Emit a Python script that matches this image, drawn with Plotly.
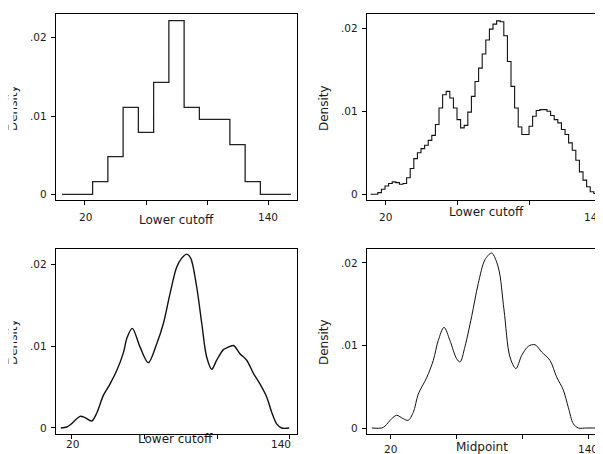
import plotly.graph_objects as go

# The page puts the figure 8px in from the window's top-left corner,
# so the figure is made 8px smaller and all positions are offset by 8px.
WIN_W, WIN_H = 603, 454
OFF = 8
W, H = WIN_W - OFF, WIN_H - OFF

# ---------------- data ----------------
# Panel 1: coarse histogram (lower cutoff), bin edges and densities
p1_edges = [5, 25, 35, 45, 55, 65, 75, 85, 95, 105, 115, 125, 135, 155]
p1_dens = [0, 0.00162, 0.00481, 0.0111, 0.00791, 0.0143, 0.02217, 0.0111,
           0.00957, 0.00957, 0.00634, 0.00162, 0]

# Panel 2: fine histogram (lower cutoff), bin edges and densities
p2_edges = [12, 14, 16, 18, 20, 22, 24, 26, 28, 30, 32, 34, 36, 38, 40, 42, 44,
            46, 48, 50, 52, 54, 56, 58, 60, 62, 64, 66, 68, 70, 72, 74, 76, 78,
            80, 82, 84, 86, 88, 90, 92, 94, 96, 98, 100, 102, 104, 106, 108,
            110, 112, 114, 116, 118, 120, 122, 124, 126, 128, 130, 132, 134,
            136, 138, 140]
p2_dens = [0, 0, 0.0002, 0.0006, 0.0010, 0.0013, 0.0015, 0.0014, 0.0012, 0.0013,
           0.0020, 0.0031, 0.0043, 0.0050, 0.0055, 0.0059, 0.0065, 0.0071,
           0.0084, 0.0104, 0.0120, 0.0124, 0.0116, 0.0104, 0.0090, 0.0080,
           0.0083, 0.0099, 0.0118, 0.0136, 0.0152, 0.0169, 0.0186, 0.0199,
           0.0205, 0.0209, 0.0208, 0.0191, 0.0160, 0.0130, 0.0104, 0.0081,
           0.0072, 0.0072, 0.0082, 0.0094, 0.0101, 0.0102, 0.0102, 0.0100,
           0.0095, 0.0090, 0.0086, 0.0078, 0.0072, 0.0062, 0.0053, 0.0041,
           0.0027, 0.0017, 0.0009, 0.0003, 0.0001, 0]

# Panel 3: smooth curve (lower cutoff)
p3_x = [14, 17.3, 20, 24.6, 27.3, 31, 33.7, 37.4, 41.1, 44.7, 48.4, 50.5, 53.3,
        57.6, 62.1, 66.7, 70.4, 74, 77.7, 80.5, 83.2, 85.4, 88.7, 91.5, 94.2,
        97, 99.7, 103.4, 105.2, 108.9, 112.5, 116.2, 119.9, 123.5, 127.2,
        130, 132.7, 135.4, 139.6]
p3_y = [0, 0.00012, 0.00053, 0.00143, 0.00127, 0.00086, 0.0018, 0.0040, 0.0054,
        0.0070, 0.0092, 0.0111, 0.0122, 0.0099, 0.0080, 0.0103, 0.0128, 0.0164,
        0.0197, 0.0208, 0.0213, 0.0208, 0.0173, 0.0128, 0.0087, 0.0072, 0.0083,
        0.0096, 0.0098, 0.0101, 0.0091, 0.0083, 0.0067, 0.0054, 0.0038, 0.0019,
        0.0005, 0, 0]

# Panel 4: smooth curve (midpoint)
p4_x = [9, 15, 17, 21, 24, 28, 31, 34.1, 37.1, 42.2, 46.2, 49.2, 52.7, 56.3,
        60.3, 62.4, 65.4, 69.4, 73.4, 77.5, 81.5, 85.5, 89, 92.6, 96.2, 99.7,
        103.7, 107.7, 111.8, 116.8, 120.8, 124.9, 127.9, 131, 134, 139, 148]
p4_y = [0, 0, 0.00024, 0.00113, 0.00154, 0.00113, 0.00093, 0.0019, 0.0041,
        0.0061, 0.0082, 0.0106, 0.0122, 0.0106, 0.0084, 0.0080, 0.0099, 0.0135,
        0.0175, 0.0204, 0.0212, 0.0195, 0.0143, 0.0086, 0.0072, 0.0088, 0.0099,
        0.0101, 0.0092, 0.0082, 0.0062, 0.0046, 0.0025, 0.0005, 0, 0, 0]

x_tickvals = [20, 60, 100, 140]
x_ticklabels = ["20", "140"]
y_tickvals = [0, 0.01, 0.02]
y_ticktext = ["0", ".01", ".02"]
x_titles = ["Lower cutoff", "Lower cutoff", "Lower cutoff", "Midpoint"]
y_title = "Density"

# ---------------- helpers (window pixels -> paper) ----------------
def px(x):
    return (x - OFF) / W

def py(y):
    return 1 - (y - OFF) / H

FONT = "DejaVu Sans"
TXT = "#1a1a1a"

fig = go.Figure()

fig.add_trace(go.Scatter(x=p1_edges, y=p1_dens + [p1_dens[-1]], mode="lines",
                         line=dict(shape="hv", color="#222", width=1.3),
                         xaxis="x", yaxis="y", showlegend=False, hoverinfo="skip"))
fig.add_trace(go.Scatter(x=p2_edges, y=p2_dens + [p2_dens[-1]], mode="lines",
                         line=dict(shape="hv", color="#111", width=1.1),
                         xaxis="x2", yaxis="y2", showlegend=False, hoverinfo="skip"))
fig.add_trace(go.Scatter(x=p3_x, y=p3_y, mode="lines",
                         line=dict(shape="spline", smoothing=0.9, color="#111", width=1.4),
                         xaxis="x3", yaxis="y3", showlegend=False, hoverinfo="skip"))
fig.add_trace(go.Scatter(x=p4_x, y=p4_y, mode="lines",
                         line=dict(shape="spline", smoothing=0.9, color="#111", width=1.0),
                         xaxis="x4", yaxis="y4", showlegend=False, hoverinfo="skip"))

panels = [
    dict(xd=(55.7, 297.0), yd=(14.3, 200.0), xr=[0.8, 159.0], yr=[-0.00073, 0.02299], ym=True),
    dict(xd=(366.7, 603.0), yd=(14.3, 200.0), xr=[9.83, 141.1], yr=[-0.00069, 0.02169], ym=False),
    dict(xd=(55.7, 296.7), yd=(248.7, 433.7), xr=[11.2, 143.7], yr=[-0.0007, 0.02196], ym=True),
    dict(xd=(366.7, 603.0), yd=(248.7, 433.7), xr=[5.9, 148.9], yr=[-0.00069, 0.02173], ym=False),
]

layout = dict(width=W, height=H, margin=dict(l=0, r=0, t=0, b=0),
              paper_bgcolor="white", plot_bgcolor="white",
              font=dict(family=FONT, size=10.5, color=TXT))

for i, p in enumerate(panels):
    n = "" if i == 0 else str(i + 1)
    layout["xaxis" + n] = dict(
        domain=[px(p["xd"][0]), min(1.0, px(p["xd"][1]))],
        range=p["xr"], anchor="y" + n, showgrid=False, zeroline=False,
        showline=True, linecolor="black", linewidth=1, mirror=True,
        ticks="outside", ticklen=4, tickwidth=1, tickcolor="black",
        tickvals=x_tickvals, showticklabels=False)
    layout["yaxis" + n] = dict(
        domain=[py(p["yd"][1]), py(p["yd"][0])],
        range=p["yr"], anchor="x" + n, showgrid=False, zeroline=False,
        showline=True, linecolor="black", linewidth=1, mirror=p["ym"],
        ticks="outside", ticklen=4, tickwidth=1, tickcolor="black",
        tickvals=y_tickvals, ticktext=y_ticktext, ticklabelstandoff=2,
        tickfont=dict(family=FONT, size=10.5, color=TXT))

fig.update_layout(**layout)

ann = []
# x tick labels (window-pixel positions of "20" and "140" as in the reference)
tick_lab_pos = [
    [(85.0, 216.5), (268.0, 216.5)],
    [(385.0, 216.5), (594.0, 216.5)],
    [(72.0, 444.0), (281.0, 444.0)],
    [(390.0, 448.5), (588.3, 448.5)],
]
for pos in tick_lab_pos:
    for t, (x, y) in zip(x_ticklabels, pos):
        ann.append(dict(text=t, x=px(x), y=py(y), xref="paper", yref="paper",
                        xanchor="center", yanchor="middle", showarrow=False,
                        font=dict(family=FONT, size=10.5, color=TXT)))
# x-axis titles
title_pos = [(176.0, 219.5), (486.0, 212.0), (175.5, 438.5), (481.7, 446.5)]
for t, (x, y) in zip(x_titles, title_pos):
    ann.append(dict(text=t, x=px(x), y=py(y), xref="paper", yref="paper",
                    xanchor="center", yanchor="middle", showarrow=False,
                    font=dict(family=FONT, size=12, color=TXT)))
# y-axis titles
ylab_pos = [(13.0, 108.0), (324.0, 108.0), (13.0, 342.0), (324.0, 342.0)]
for (x, y) in ylab_pos:
    ann.append(dict(text=y_title, x=px(x), y=py(y), xref="paper", yref="paper",
                    xanchor="center", yanchor="middle", showarrow=False, textangle=-90,
                    font=dict(family=FONT, size=12, color=TXT)))
# white covers clipping the left "Density" labels like the reference
for yc in (108.0, 342.0):
    ann.append(dict(text=" ", x=0, y=py(yc), xref="paper", yref="paper",
                    xanchor="left", yanchor="middle", showarrow=False,
                    width=4, height=70, bgcolor="white", borderpad=0,
                    font=dict(size=4)))
fig.update_layout(annotations=ann)

fig.write_html("out.html")
